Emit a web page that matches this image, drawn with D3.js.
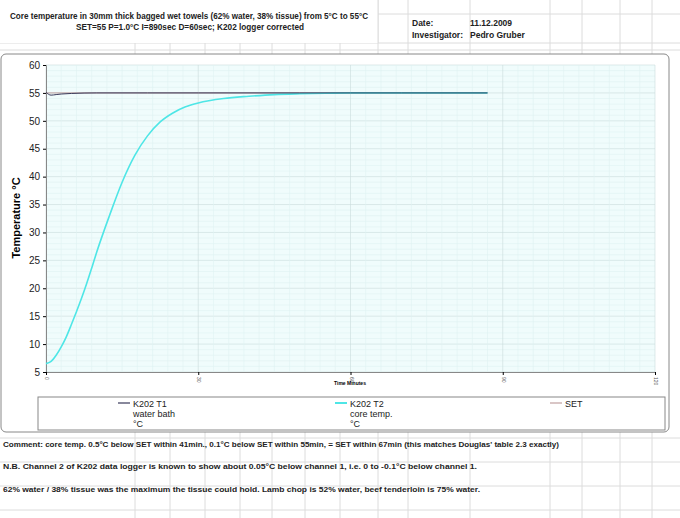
<!DOCTYPE html><html><head><meta charset="utf-8">
<script src="https://cdn.jsdelivr.net/npm/d3@7"></script>
<style>body{margin:0;background:#fff;font-family:"Liberation Sans",Arial,sans-serif}</style></head><body>
<svg id="c" width="680" height="518"></svg>
<script>
const t1Times=[0,1,2,3,5,10,20,30,40,50,60,70,80,87];
const t1Vals=[55.1,54.6,54.7,54.8,54.9,55.0,55.0,55.0,55.0,55.0,55.0,55.0,55.0,55.0];
const t2Times=[0,1,2,3,4,5,6,7,8,9,10,12.5,15,17.5,20,22.5,25,27.5,30,35,40,45,50,55,60,70,80,87];
const t2Vals=[6.5,6.9,8.0,9.5,11.3,13.5,15.8,18.2,20.8,23.6,26.5,33,39,43.8,47.3,49.8,51.4,52.5,53.2,54.0,54.4,54.7,54.85,54.95,55.0,55.0,55.0,55.0];
const setTimes=[0,87];const setVals=[55,55];
const yTicks=[5,10,15,20,25,30,35,40,45,50,55,60];
const xTicks=[0,30,60,90,120];
const svg=d3.select("#c");
const cols=[135,170,205,240,272,305,340,378,408,470,550,582,620,652];
cols.forEach(x=>svg.append("line").attr("x1",x).attr("x2",x).attr("y1",0).attr("y2",518).attr("stroke","#dcdcdc"));
[14,43,50,438,462,486,510].forEach(y=>svg.append("line").attr("x1",0).attr("x2",680).attr("y1",y).attr("y2",y).attr("stroke","#dcdcdc"));
svg.append("rect").attr("x",0).attr("y",0).attr("width",378).attr("height",43).attr("fill","#fff");
svg.append("line").attr("x1",378).attr("x2",378).attr("y1",0).attr("y2",43).attr("stroke","#dcdcdc");
const t=svg.append("g").attr("font-size",8.5).attr("font-weight","bold").attr("fill","#222");
t.append("text").attr("x",10).attr("y",19).attr("textLength",358).attr("lengthAdjust","spacingAndGlyphs").text("Core temperature in 30mm thick bagged wet towels (62% water, 38% tissue) from 5°C to 55°C");
t.append("text").attr("x",76).attr("y",30).attr("textLength",228).attr("lengthAdjust","spacingAndGlyphs").text("SET=55 P=1.0°C I=890sec D=60sec; K202 logger corrected");
t.append("text").attr("x",412).attr("y",26).text("Date:");
t.append("text").attr("x",470).attr("y",26).text("11.12.2009");
t.append("text").attr("x",412).attr("y",38).text("Investigator:");
t.append("text").attr("x",470).attr("y",38).text("Pedro Gruber");
svg.append("rect").attr("x",1).attr("y",54).attr("width",668).attr("height",378).attr("rx",5).attr("fill","#fff").attr("stroke","#888");
const x=d3.scaleLinear().domain([0,120]).range([46,655]);
const y=d3.scaleLinear().domain([5,60]).range([372,65]);
svg.append("rect").attr("x",46).attr("y",65).attr("width",609).attr("height",307).attr("fill","#f0fcfc");
const g=svg.append("g");
d3.range(5,60.1,1).forEach(v=>g.append("line").attr("x1",46).attr("x2",655).attr("y1",y(v)).attr("y2",y(v)).attr("stroke",v%5===0?"#c9dcdc":"#dff2f2").attr("stroke-width",0.6));
d3.range(0,120.1,3).forEach(v=>g.append("line").attr("y1",65).attr("y2",372).attr("x1",x(v)).attr("x2",x(v)).attr("stroke",v%30===0?"#c9dcdc":"#dff2f2").attr("stroke-width",0.6));
svg.append("g").attr("transform","translate(46,0)").call(d3.axisLeft(y).tickValues(yTicks).tickSize(3)).call(a=>a.selectAll("text").attr("font-size",10).attr("fill","#222")).call(a=>a.select(".domain").attr("stroke","#888"));
const xa=svg.append("g").attr("transform","translate(0,372)").call(d3.axisBottom(x).tickValues(xTicks).tickSize(3)).call(a=>a.select(".domain").attr("stroke","#888"));
xa.selectAll("text").attr("font-size",5).attr("fill","#555").attr("transform","rotate(90)").attr("text-anchor","start").attr("dy","0.3em").attr("x",5).attr("y",0);
svg.append("text").attr("x",350).attr("y",385).attr("text-anchor","middle").attr("font-size",5).attr("font-weight","bold").text("Time Minutes");
svg.append("text").attr("transform","translate(20,218) rotate(-90)").attr("text-anchor","middle").attr("font-size",11).attr("font-weight","bold").text("Temperature °C");
const line=(ts,vs)=>d3.line().x((d,i)=>x(ts[i])).y(d=>y(d)).curve(d3.curveMonotoneX)(vs);
svg.append("path").attr("d",line(setTimes,setVals)).attr("fill","none").attr("stroke","#c0a0a0").attr("stroke-width",1);
svg.append("path").attr("d",line(t2Times,t2Vals)).attr("fill","none").attr("stroke","#4ee6e6").attr("stroke-width",1.6);
svg.append("path").attr("d",line(t1Times,t1Vals)).attr("fill","none").attr("stroke","#3a3a5a").attr("stroke-width",1);
svg.append("rect").attr("x",38).attr("y",397).attr("width",627).attr("height",33).attr("fill","#fff").attr("stroke","#888");
const leg=[{x:118,c:"#3a3a5a",l:["K202 T1","water bath","°C"]},{x:335,c:"#4ee6e6",l:["K202 T2","core temp.","°C"]},{x:550,c:"#c0a0a0",l:["SET"]}];
leg.forEach(d=>{svg.append("line").attr("x1",d.x).attr("x2",d.x+12).attr("y1",403).attr("y2",403).attr("stroke",d.c).attr("stroke-width",d.c==="#4ee6e6"?2:1.2);
d.l.forEach((s,i)=>svg.append("text").attr("x",d.x+15).attr("y",407+i*10).attr("font-size",9).attr("fill","#222").text(s));});
const f=svg.append("g").attr("font-size",8).attr("font-weight","bold").attr("fill","#222");
f.append("text").attr("x",3).attr("y",447).attr("textLength",556).attr("lengthAdjust","spacingAndGlyphs").text("Comment: core temp. 0.5°C below SET within 41min., 0.1°C below SET within 55min, = SET within 67min (this matches Douglas' table 2.3 exactly)");
f.append("text").attr("x",3).attr("y",469).attr("textLength",474).attr("lengthAdjust","spacingAndGlyphs").text("N.B. Channel 2 of K202 data logger is known to show about 0.05°C below channel 1, i.e.  0 to -0.1°C below channel 1.");
f.append("text").attr("x",3).attr("y",492).attr("textLength",477).attr("lengthAdjust","spacingAndGlyphs").text("62% water / 38% tissue was the maximum the tissue could hold. Lamb chop is 52% water, beef tenderloin is 75% water.");
</script></body></html>
